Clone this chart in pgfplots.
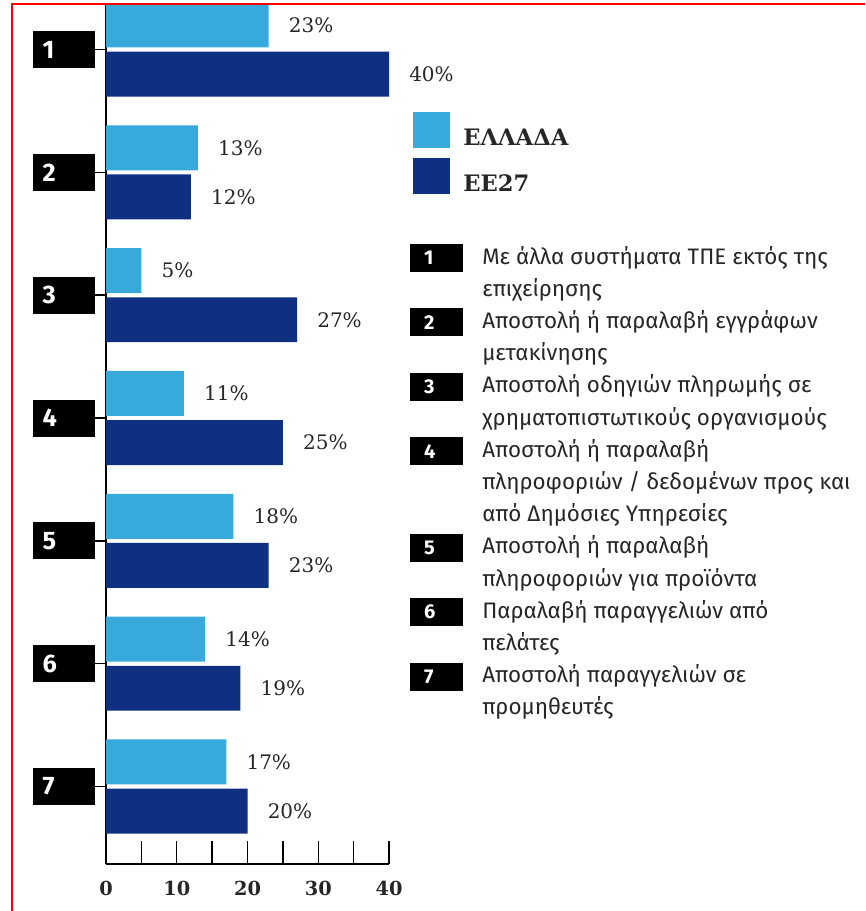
\documentclass[border=0pt]{standalone}
\usepackage{fontspec}
\setmainfont{DejaVu Serif}
\newfontfamily\descfont{Fira Sans}
\usepackage{pgfplots}
\pgfplotsset{compat=1.18}
\definecolor{grlight}{HTML}{38A9DB}
\definecolor{eudark}{HTML}{0F2F80}
\definecolor{txtgray}{HTML}{262626}

\begin{document}
\begin{tikzpicture}
\useasboundingbox (0,0) rectangle (648.75pt,-683.25pt);
\begin{axis}[
    at={(79.5pt,-648pt)}, anchor=south west,
    scale only axis, width=212.25pt, height=645pt,
    xbar, bar width=0.366,
    xmin=0, xmax=40, ymin=0.369, ymax=7.3705,
    axis lines=left,
    axis line style={-, line width=1.2pt, black},
    xtick={0,10,20,30,40}, minor xtick={5,15,25,35},
    tick align=inside,
    major tick length=17.25pt, minor tick length=17.25pt,
    every tick/.style={black, line width=1.1pt},
    minor tick style={black, line width=1.1pt},
    ytick={1,...,7},
    yticklabels={\textbf{7},\textbf{6},\textbf{5},\textbf{4},\textbf{3},\textbf{2},\textbf{1}},
    y tick style={xshift=-17.25pt},
    /pgf/number format/assume math mode=true,
    xticklabel style={anchor=center, yshift=-18pt, text=txtgray,
        font=\bfseries\fontsize{14.5}{16}\selectfont},
    yticklabel style={font=\descfont\bfseries\fontsize{19}{19}\selectfont,
        text=white, fill=black, anchor=east, xshift=-8.25pt,
        minimum height=27.75pt, text width=31.5pt, inner xsep=7.5pt,
        inner ysep=0pt, align=left},
    point meta=x,
    nodes near coords={\pgfmathprintnumber{\pgfplotspointmeta}\%},
    nodes near coords align=horizontal,
    every node near coord/.append style={font=\fontsize{15}{17}\selectfont,
        text=txtgray, inner sep=0pt, anchor=west, xshift=15pt},
    legend style={at={(1.0848,0.8744)}, anchor=north west, draw=none,
        fill=none, inner sep=0pt, row sep=7.5pt, column sep=9.75pt,
        nodes={inner sep=0pt}, text=txtgray,
        font=\bfseries\fontsize{17}{19}\selectfont},
    legend cell align=left,
    legend image code/.code={\fill[#1] (0pt,-7.5pt) rectangle (27.75pt,19.5pt);},
]
\addplot[fill=grlight, draw=none, bar shift=0.2]
    coordinates {(23,7) (13,6) (5,5) (11,4) (18,3) (14,2) (17,1)};
\addplot[fill=eudark, draw=none, bar shift=-0.2]
    coordinates {(40,7) (12,6) (27,5) (25,4) (23,3) (19,2) (20,1)};
\legend{ΕΛΛΑΔΑ, ΕΕ27}
\end{axis}

\begin{scope}[x=0.75pt, y=-0.75pt]
\foreach \t [count=\i from 0] in {
    Με άλλα συστήματα ΤΠΕ εκτός της,
    επιχείρησης,
    Αποστολή ή παραλαβή εγγράφων,
    μετακίνησης,
    Αποστολή οδηγιών πληρωμής σε,
    χρηματοπιστωτικούς οργανισμούς,
    Αποστολή ή παραλαβή,
    πληροφοριών / δεδομένων προς και,
    από Δημόσιες Υπηρεσίες,
    Αποστολή ή παραλαβή,
    πληροφοριών για προϊόντα,
    Παραλαβή παραγγελιών από,
    πελάτες,
    Αποστολή παραγγελιών σε,
    προμηθευτές}
  {\node[anchor=base west, inner sep=0pt, text=txtgray,
        font=\descfont\fontsize{16.8}{18}\selectfont] at (482, {264+32.2*\i}) {\t};}
\foreach \n/\l in {1/0,2/2,3/4,4/6,5/9,6/11,7/13}
  {\node[fill=black, text=white, font=\descfont\bfseries\fontsize{15}{15}\selectfont,
        minimum height=21pt, text width=18.75pt, inner xsep=10.5pt, inner ysep=0pt,
        align=left] at (436.5, {258+32.2*\l}) {\n};}
\draw[red, line width=1.5pt] (11.5,911) -- (11.5,4) -- (865,4);
\end{scope}
\end{tikzpicture}
\end{document}
